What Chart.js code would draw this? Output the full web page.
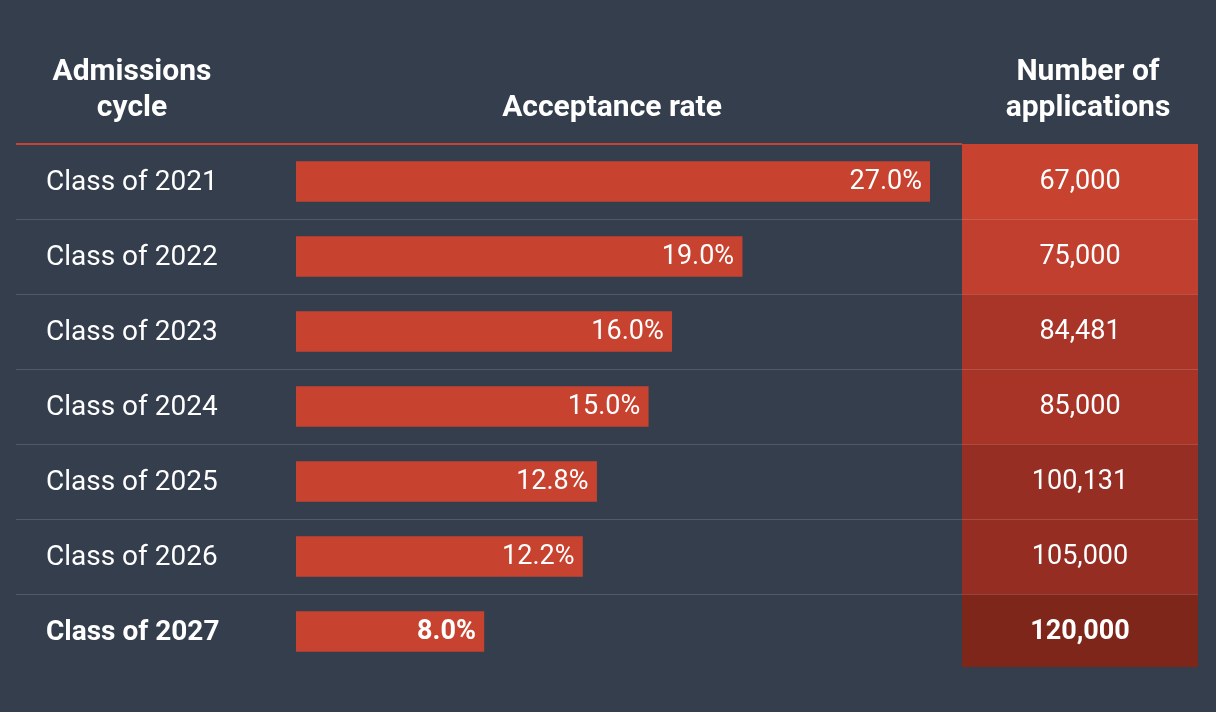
<!DOCTYPE html>
<html>
<head>
<meta charset="utf-8">
<script src="https://cdn.jsdelivr.net/npm/chart.js@4"></script>
<style>
  html, body { margin: 0; padding: 0; background: #343e4d; }
  #wrap { width: 1216px; height: 712px; }
</style>
</head>
<body>
<div id="wrap"><canvas id="ratesChart" width="1216" height="712"></canvas></div>
<script>
// DATA
const cycles = ["Class of 2021", "Class of 2022", "Class of 2023", "Class of 2024", "Class of 2025", "Class of 2026", "Class of 2027"];
const acceptanceRates = [27.0, 19.0, 16.0, 15.0, 12.8, 12.2, 8.0];
const applications = [67000, 75000, 84481, 85000, 100131, 105000, 120000];
const appColors = ["#c84230", "#c03f2e", "#a93528", "#a83428", "#972e23", "#952d22", "#7e2619"];

// table drawing around the bars
const tablePlugin = {
  id: "table",
  beforeDatasetsDraw(chart) {
    const ctx = chart.ctx;
    const y = chart.scales.y;
    ctx.save();
    // application column cells
    cycles.forEach((c, i) => {
      const top = y.getPixelForValue(i) - 37.5;
      ctx.fillStyle = appColors[i];
      ctx.fillRect(962, top, 236, i === cycles.length - 1 ? 73 : 75);
    });
    // row separators
    ctx.strokeStyle = "rgba(255,255,255,0.15)";
    ctx.lineWidth = 1;
    for (let i = 1; i < cycles.length; i++) {
      const yy = Math.round(y.getPixelForValue(i) - 37.5) + 0.5;
      ctx.beginPath(); ctx.moveTo(16, yy); ctx.lineTo(1198, yy); ctx.stroke();
    }
    // header rule
    ctx.strokeStyle = "#c84230";
    ctx.lineWidth = 2;
    ctx.beginPath(); ctx.moveTo(16, 144); ctx.lineTo(962, 144); ctx.stroke();
    ctx.restore();
  },
  afterDatasetsDraw(chart) {
    const ctx = chart.ctx;
    const x = chart.scales.x;
    const y = chart.scales.y;
    ctx.save();
    ctx.fillStyle = "#ffffff";
    ctx.textBaseline = "middle";
    // headers
    ctx.font = "bold 30px Roboto";
    ctx.textAlign = "center";
    ctx.fillText("Admissions", 132, 72);
    ctx.fillText("cycle", 132, 108);
    ctx.fillText("Acceptance rate", 612, 108);
    ctx.fillText("Number of", 1088, 72);
    ctx.fillText("applications", 1088, 108);
    cycles.forEach((c, i) => {
      const bold = i === cycles.length - 1;
      const yy = y.getPixelForValue(i) + 1;
      ctx.font = (bold ? "bold " : "") + "28px Roboto";
      ctx.textAlign = "left";
      ctx.fillText(c, 46, yy);
      ctx.font = (bold ? "bold " : "") + "27px Roboto";
      ctx.textAlign = "right";
      ctx.fillText(acceptanceRates[i].toFixed(1) + "%", x.getPixelForValue(acceptanceRates[i]) - 8, yy);
      ctx.textAlign = "center";
      ctx.fillText(applications[i].toLocaleString("en-US"), 1080, yy);
    });
    ctx.restore();
  },
};

new Chart(document.getElementById("ratesChart"), {
  type: "bar",
  data: {
    labels: cycles,
    datasets: [
      {
        data: acceptanceRates,
        backgroundColor: "#c84230",
        borderWidth: 0,
        barThickness: 40,
      },
    ],
  },
  options: {
    responsive: false,
    animation: false,
    indexAxis: "y",
    layout: { padding: { left: 296, right: 286, top: 144, bottom: 43 } },
    plugins: { legend: { display: false }, tooltip: { enabled: false } },
    scales: {
      x: { display: false, min: 0, max: 27 },
      y: { display: false },
    },
  },
  plugins: [tablePlugin],
});
</script>
</body>
</html>
